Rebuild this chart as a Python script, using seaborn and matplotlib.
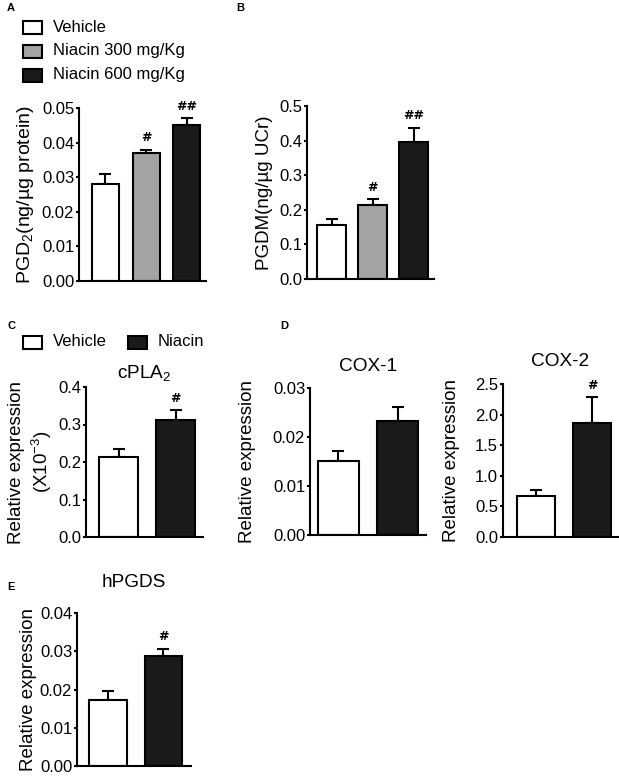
import numpy as np
import matplotlib
matplotlib.use('Agg')
import matplotlib.pyplot as plt
import seaborn as sns
from matplotlib.patches import Rectangle

sns.set_theme(style='ticks')
plt.rcParams['font.family'] = ['Liberation Sans', 'DejaVu Sans']
plt.rcParams['mathtext.fontset'] = 'custom'
plt.rcParams['mathtext.rm'] = 'Liberation Sans'
for k in ['text.color', 'axes.labelcolor', 'xtick.color', 'ytick.color',
          'axes.edgecolor']:
    plt.rcParams[k] = 'black'

# ---------------- data ----------------
dose_groups = ['Vehicle', 'Niacin 300 mg/Kg', 'Niacin 600 mg/Kg']
dose_colors = ['#ffffff', '#a3a3a3', '#1a1a1a']
pgd2_mean = [0.028, 0.037, 0.045]
pgd2_err = [0.003, 0.001, 0.002]
pgd2_marks = ['', '#', '##']
pgd2_ticks = [0.00, 0.01, 0.02, 0.03, 0.04, 0.05]
pgd2_ticklabels = ['0.00', '0.01', '0.02', '0.03', '0.04', '0.05']

pgdm_mean = [0.155, 0.215, 0.397]
pgdm_err = [0.017, 0.015, 0.040]
pgdm_marks = ['', '#', '##']
pgdm_ticks = [0.0, 0.1, 0.2, 0.3, 0.4, 0.5]
pgdm_ticklabels = ['0.0', '0.1', '0.2', '0.3', '0.4', '0.5']

treat_groups = ['Vehicle', 'Niacin']
treat_colors = ['#ffffff', '#1a1a1a']

cpla2_mean = [0.213, 0.311]
cpla2_err = [0.022, 0.027]
cpla2_marks = ['', '#']
cpla2_ticks = [0.0, 0.1, 0.2, 0.3, 0.4]
cpla2_ticklabels = ['0.0', '0.1', '0.2', '0.3', '0.4']

cox1_mean = [0.0152, 0.0232]
cox1_err = [0.0020, 0.0030]
cox1_marks = ['', '']
cox1_ticks = [0.00, 0.01, 0.02, 0.03]
cox1_ticklabels = ['0.00', '0.01', '0.02', '0.03']

cox2_mean = [0.67, 1.87]
cox2_err = [0.09, 0.41]
cox2_marks = ['', '#']
cox2_ticks = [0.0, 0.5, 1.0, 1.5, 2.0, 2.5]
cox2_ticklabels = ['0.0', '0.5', '1.0', '1.5', '2.0', '2.5']

hpgds_mean = [0.0173, 0.0287]
hpgds_err = [0.0024, 0.0019]
hpgds_marks = ['', '#']
hpgds_ticks = [0.00, 0.01, 0.02, 0.03, 0.04]
hpgds_ticklabels = ['0.00', '0.01', '0.02', '0.03', '0.04']

# ---------------- figure ----------------
W, H = 619, 778
fig = plt.figure(figsize=(W / 100, H / 100), dpi=100)

FS = 12
LW = 1.5


def add_ax(l, t, r, b):
    return fig.add_axes([l / W, 1 - b / H, (r - l) / W, (b - t) / H])


def bar_panel(ax, cats, colors, means, errs, marks, ticks, ticklabels,
              width, xlim, ylabel, ylabel_fs=13.5, labelpad=3, title=None,
              title_pad=6):
    sns.barplot(x=cats, y=means, hue=cats, palette=colors, legend=False,
                ax=ax, width=width, edgecolor='black', linewidth=LW,
                errorbar=None, saturation=1, zorder=2)
    n = len(cats)
    xs = np.arange(n)
    ax.errorbar(xs, means, yerr=[np.zeros(n), errs], fmt='none',
                ecolor='black', elinewidth=LW, capsize=4.5, capthick=LW,
                zorder=1)
    for x, m, e, mk in zip(xs, means, errs, marks):
        if mk:
            ax.annotate(mk, (x, m + e), xytext=(0, 4),
                        textcoords='offset points', ha='center',
                        va='bottom', fontsize=9, fontweight='bold',
                        family='DejaVu Sans')
    ax.set_ylim(ticks[0], ticks[-1])
    ax.set_yticks(ticks)
    ax.set_yticklabels(ticklabels, fontsize=FS)
    ax.set_xticks([])
    ax.set_xlim(*xlim)
    ax.set_xlabel('')
    ax.set_ylabel(ylabel, fontsize=ylabel_fs, labelpad=labelpad)
    for s in ['top', 'right']:
        ax.spines[s].set_visible(False)
    for s in ['left', 'bottom']:
        ax.spines[s].set_linewidth(LW)
        ax.spines[s].set_color('black')
    ax.tick_params(axis='y', direction='out', length=2.5, width=LW,
                   color='black', pad=1, labelcolor='black')
    ax.set_facecolor('white')
    if title:
        ax.set_title(title, fontsize=13.7, pad=title_pad)


# Panel A
axA = add_ax(79, 108, 206, 281)
bar_panel(axA, dose_groups, dose_colors, pgd2_mean, pgd2_err, pgd2_marks,
          pgd2_ticks, pgd2_ticklabels, 0.66, (-0.65, 2.47),
          'PGD$_2$(ng/µg protein)', ylabel_fs=14, labelpad=4)

# Panel B
axB = add_ax(307, 106, 434, 279)
bar_panel(axB, dose_groups, dose_colors, pgdm_mean, pgdm_err, pgdm_marks,
          pgdm_ticks, pgdm_ticklabels, 0.71, (-0.6, 2.5),
          'PGDM(ng/µg UCr)', ylabel_fs=13.5, labelpad=4)

# Panel C
axC = add_ax(86, 387, 203, 537)
bar_panel(axC, treat_groups, treat_colors, cpla2_mean, cpla2_err, cpla2_marks,
          cpla2_ticks, cpla2_ticklabels, 0.68, (-0.57, 1.48),
          'Relative expression\n(X10$^{-3}$)', title='cPLA$_2$', title_pad=6)

# Panel D: COX-1
axD1 = add_ax(310, 388, 426, 535)
bar_panel(axD1, treat_groups, treat_colors, cox1_mean, cox1_err, cox1_marks,
          cox1_ticks, cox1_ticklabels, 0.69, (-0.48, 1.48),
          'Relative expression', labelpad=12, title='COX-1', title_pad=12)

# Panel D: COX-2
axD2 = add_ax(503, 384, 618, 537)
bar_panel(axD2, treat_groups, treat_colors, cox2_mean, cox2_err, cox2_marks,
          cox2_ticks, cox2_ticklabels, 0.68, (-0.59, 1.46),
          'Relative expression', labelpad=11, title='COX-2', title_pad=13)

# Panel E
axE = add_ax(77, 613, 191, 766)
bar_panel(axE, treat_groups, treat_colors, hpgds_mean, hpgds_err, hpgds_marks,
          hpgds_ticks, hpgds_ticklabels, 0.68, (-0.56, 1.5),
          'Relative expression', labelpad=2, title='hPGDS', title_pad=19)

# ---------------- legends (manual) ----------------
def legend_entry(x, y, color, label, fs=12):
    # x, y in pixels: left of square, vertical center
    sw, sh = 19, 13
    fig.add_artist(Rectangle((x / W, 1 - (y + sh / 2) / H), sw / W, sh / H,
                             transform=fig.transFigure, facecolor=color,
                             edgecolor='black', linewidth=LW))
    fig.text((x + 30) / W, 1 - y / H, label, fontsize=fs, va='center',
             ha='left')


for i, (g, c) in enumerate(zip(dose_groups, dose_colors)):
    legend_entry(23, 27 + i * 24, c, g)

legend_entry(23, 342, treat_colors[0], treat_groups[0])
legend_entry(128, 342, treat_colors[1], treat_groups[1])

# ---------------- panel letters ----------------
for lab, x, y in [('A', 7, 8), ('B', 236, 8), ('C', 7, 326),
                  ('D', 280, 326), ('E', 7, 587)]:
    fig.text(x / W, 1 - y / H, lab, fontsize=8, fontweight='bold',
             va='center', ha='left')

fig.savefig('out.png', dpi=100, facecolor='white')
